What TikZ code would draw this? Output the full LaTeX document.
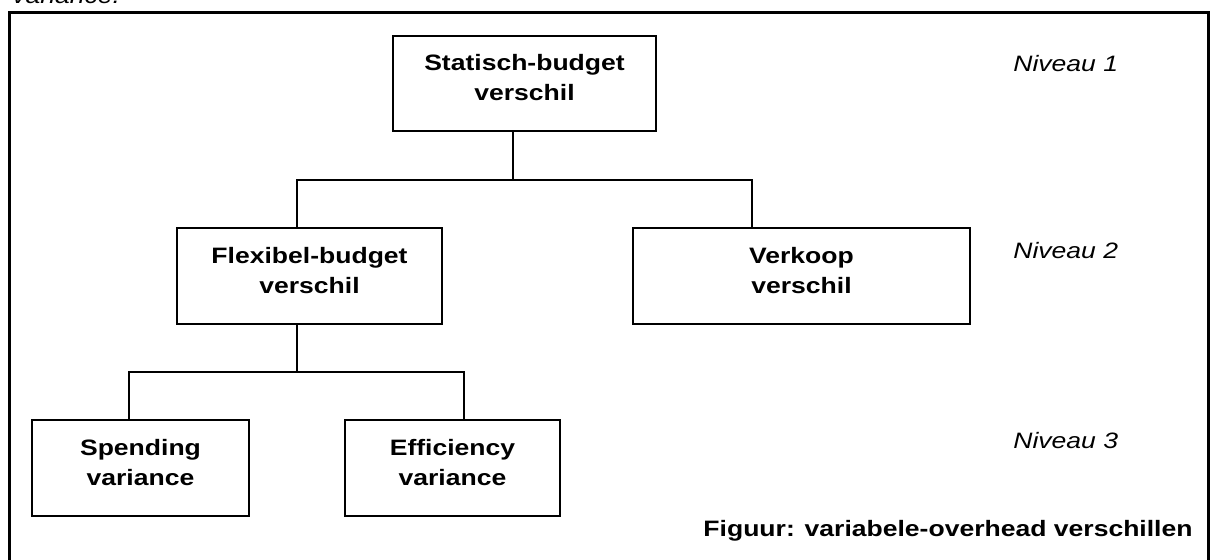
\documentclass[tikz,border=0pt]{standalone}
\usepackage{fontspec}
\setmainfont{Liberation Sans}[FakeStretch=1.19]
\newcommand\diagfont{\fontsize{11.15pt}{15pt}\selectfont}
% extra depth under the last line so the two lines sit a little above the box centre
\newcommand\lowpad{\rule[-6pt]{0pt}{6pt}}
\begin{document}
\begin{tikzpicture}[x=0.5pt,y=-0.5pt,
  box/.style={draw, line width=1.45pt, inner sep=0pt, align=center,
    font=\diagfont\bfseries},
  link/.style={line width=1.45pt},
  level/.style={anchor=base west, inner sep=0pt, font=\diagfont\itshape},
  caption/.style={anchor=base east, inner sep=0pt, font=\diagfont\bfseries},
]
\path[use as bounding box] (0,0) rectangle (1212,559);
\clip (0,0) rectangle (1212,559);
\fill[white] (0,0) rectangle (1212,559);

% tail of the preceding sentence
\node[level] (prev) at (12,3.5) {variance.};

% open frame around the figure
\draw[line width=1.5pt] (9.5,620) -- (9.5,12.5) -- (1208,12.5) -- (1208,620);

% level 1
\node[box, minimum width=131.5pt, minimum height=47.5pt] (stat) at (524.5,83.5)
  {Statisch-budget\\verschil\lowpad};
% level 2
\node[box, minimum width=132.5pt, minimum height=48pt] (flex) at (309.5,276)
  {Flexibel-budget\\verschil\lowpad};
\node[box, minimum width=168.5pt, minimum height=48pt] (verk) at (801.5,276)
  {Verkoop\\verschil\lowpad};
% level 3
\node[box, minimum width=108.5pt, minimum height=48pt] (spend) at (140.5,468)
  {Spending\\variance\lowpad};
\node[box, minimum width=107.5pt, minimum height=48pt] (eff) at (452.5,468)
  {Efficiency\\variance\lowpad};

% tree connectors
\coordinate (j1) at (513,180);
\coordinate (b1l) at (297,180);
\coordinate (b1r) at (752,180);
\draw[link] (stat.south -| j1) -- (j1);
\draw[link] (flex.north -| b1l) -- (b1l) -- (b1r) -- (verk.north -| b1r);

\coordinate (j2) at (297,372);
\coordinate (b2l) at (129,372);
\coordinate (b2r) at (464,372);
\draw[link] (flex.south -| j2) -- (j2);
\draw[link] (spend.north -| b2l) -- (b2l) -- (b2r) -- (eff.north -| b2r);

% level labels
\node[level] (n1) at (1013,71) {Niveau 1};
\node[level] (n2) at (1013,258) {Niveau 2};
\node[level] (n3) at (1013,448) {Niveau 3};

\node[caption] (cap) at (1193,536) {Figuur: variabele-overhead verschillen};
\end{tikzpicture}
\end{document}
